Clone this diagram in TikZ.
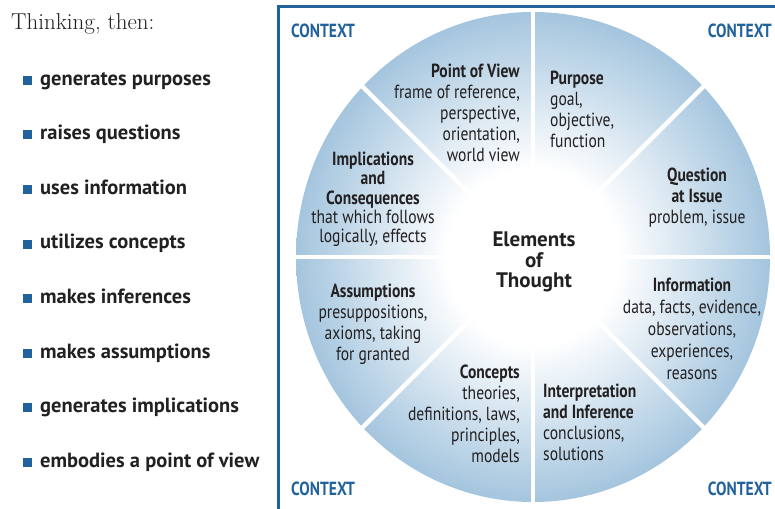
\documentclass[tikz,border=0pt]{standalone}
\usepackage{fontspec}
\setsansfont{PT Sans}
\newfontfamily\condfont[FakeStretch=0.82]{PT Sans}
\usetikzlibrary{positioning}

\definecolor{ctxblue}{RGB}{34,98,156}
\definecolor{rimblue}{RGB}{164,197,222}
\definecolor{inkgray}{RGB}{35,32,34}
\pgfdeclareradialshading{wheelshade}{\pgfpoint{0bp}{0bp}}{color(0bp)=(white); color(9bp)=(white); color(25bp)=(rimblue); color(50bp)=(rimblue)}

\begin{document}
\begin{tikzpicture}[x=1pt,y=-1pt,
  wheel/.style={inner sep=0pt, text=inkgray, font=\condfont\fontsize{19}{21}\selectfont},
  ctx/.style={inner sep=0pt, text=ctxblue, font=\condfont\bfseries\fontsize{19}{19}\selectfont},
  listitem/.style={inner sep=0pt, anchor=base west, text=inkgray, font=\sffamily\bfseries\fontsize{20.5}{20.5}\selectfont},
  bulletsq/.style={fill=ctxblue, minimum size=9pt, inner sep=0pt, anchor=south east},
  gap/.style={white, line width=4.5pt}]
  \useasboundingbox (0,0) rectangle (775,508);

  % Left column
  \node[inner sep=0pt, anchor=base west, text=inkgray, font=\fontsize{23}{23}\selectfont] (intro) at (11,30) {Thinking, then:};
  \foreach \txt [count=\i] in {generates purposes, raises questions, uses information, utilizes concepts, makes inferences, makes assumptions, generates implications, embodies a point of view}
    {\node[listitem] (item\i) at (40,{30.4+54.6*\i}) {\txt};
     \node[bulletsq] (sq\i) at ([xshift=-8pt]item\i.base west) {};}

  % Wheel
  \coordinate (hub) at (533,257);
  \shade[shading=wheelshade] (hub) ellipse [x radius=237pt, y radius=245pt];
  \begin{scope}
    \clip (hub) ellipse [x radius=239pt, y radius=247pt];
    \foreach \a in {0,45,...,315} \draw[gap] (hub) -- ++(\a:300pt);
  \end{scope}

  % Frame
  \draw[ctxblue, line width=3pt] (278,512) |- (780,7);

  % Corners
  \node[ctx, anchor=base west] (ctxNW) at (291,38) {CONTEXT};
  \node[ctx, anchor=base east] (ctxNE) at (772,38) {CONTEXT};
  \node[ctx, anchor=base west] (ctxSW) at (291,495) {CONTEXT};
  \node[ctx, anchor=base east] (ctxSE) at (772,495) {CONTEXT};

  % Sectors
  \node[wheel, anchor=north east, align=right] (view) at (520,64) {\textbf{Point of View}\\frame of reference,\\perspective,\\orientation,\\world view};
  \node[wheel, anchor=north west, align=left] (purpose) at (550,71) {\textbf{Purpose}\\goal,\\objective,\\function};
  \node[wheel, anchor=north, align=center] (question) at (697,168) {\textbf{Question}\\\textbf{at Issue}\\problem, issue};
  \node[wheel, anchor=north, align=center, font=\condfont\fontsize{19}{19.2}\selectfont] (implic) at (373,152) {\textbf{Implications}\\\textbf{and}\\\textbf{Consequences}\\that which follows\\logically, effects};
  \node[inner sep=0pt, anchor=north, align=center, text=inkgray, font=\sffamily\bfseries\fontsize{21}{20.5}\selectfont] (elements) at (534,232) {Elements\\of\\Thought};
  \node[wheel, anchor=north, align=center, font=\condfont\fontsize{19}{22}\selectfont] (info) at (692,278) {\textbf{Information}\\data, facts, evidence,\\observations,\\experiences,\\reasons};
  \node[wheel, anchor=north west, align=left] (interp) at (543,384) {\textbf{Interpretation}\\\textbf{and Inference}\\conclusions,\\solutions};
  \node[wheel, anchor=north east, align=right] (concepts) at (520,365) {\textbf{Concepts}\\theories,\\definitions, laws,\\principles,\\models};
  \node[wheel, anchor=north, align=center] (assume) at (373,284) {\textbf{Assumptions}\\presuppositions,\\axioms, taking\\for granted};
\end{tikzpicture}
\end{document}
